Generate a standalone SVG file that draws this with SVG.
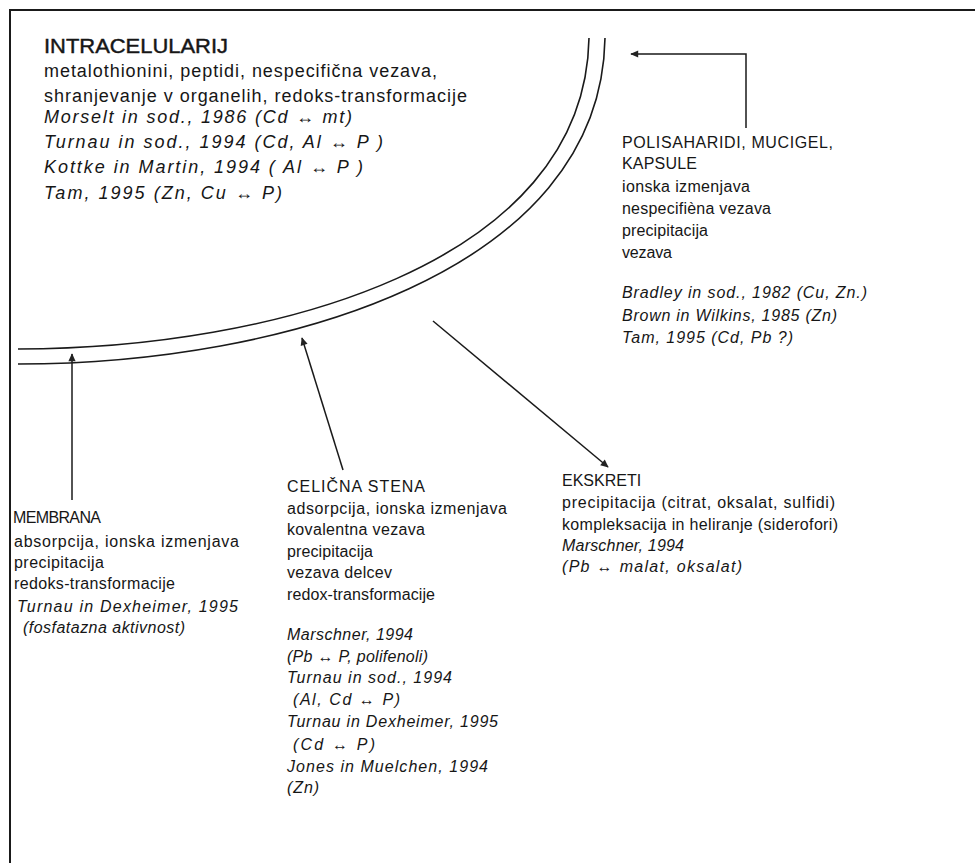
<svg xmlns="http://www.w3.org/2000/svg" width="975" height="863" viewBox="0 0 975 863">
<defs>
<marker id="ah" viewBox="0 0 10 10" refX="9" refY="5" markerWidth="9" markerHeight="8" orient="auto" markerUnits="userSpaceOnUse">
<path d="M0,0.5 L10,5 L0,9.5 z" fill="#222"/>
</marker>
<style>
text{font-family:"Liberation Sans",Arial,sans-serif;fill:#161616;}
.big{font-size:21px;stroke:#161616;stroke-width:0.45;}
.t18{font-size:18px;}
.t16{font-size:16px;}
.it{font-style:italic;}
.frame{fill:none;stroke:#1a1a1a;stroke-width:2;}
.wall{fill:none;stroke:#1a1a1a;stroke-width:1.6;}
.conn{fill:none;stroke:#1a1a1a;stroke-width:1.5;marker-end:url(#ah);}
</style>
</defs>
<rect width="975" height="863" fill="#fff"/>
<path class="frame" d="M10,863 L10,10 L975,10"/>
<g id="cell-wall">
<path class="wall" d="M18,349 C 270,349 585,265 589,38"/>
<path class="wall" d="M18,364 C 282,364 601,272 605,38"/>
</g>
<g id="connectors">
<polyline class="conn" points="746,128 746,54 631,54"/>
<line class="conn" x1="72" y1="500" x2="72" y2="354"/>
<line class="conn" x1="343" y1="470" x2="302" y2="338"/>
<line class="conn" x1="433" y1="321" x2="608" y2="467"/>
</g>
<g id="intracelularij">
<text class="big" x="44" y="53" textLength="184" lengthAdjust="spacingAndGlyphs">INTRACELULARIJ</text>
<text class="t18" x="44" y="77" textLength="393">metalothionini, peptidi, nespecifična vezava,</text>
<text class="t18" x="44" y="102" textLength="423">shranjevanje v organelih, redoks-transformacije</text>
<text class="t18 it" x="44" y="123" textLength="308">Morselt in sod., 1986 (Cd ↔ mt)</text>
<text class="t18 it" x="44" y="148" textLength="339">Turnau in sod., 1994 (Cd, Al ↔ P )</text>
<text class="t18 it" x="44" y="173" textLength="319">Kottke in Martin, 1994 ( Al ↔ P )</text>
<text class="t18 it" x="44" y="199" textLength="238">Tam, 1995 (Zn, Cu ↔ P)</text>
</g>
<g id="polisaharidi">
<text class="t16" x="622" y="148" textLength="211">POLISAHARIDI, MUCIGEL,</text>
<text class="t16" x="622" y="169" textLength="75">KAPSULE</text>
<text class="t16" x="622" y="192" textLength="128">ionska izmenjava</text>
<text class="t16" x="622" y="214" textLength="149">nespecifièna vezava</text>
<text class="t16" x="622" y="236" textLength="86">precipitacija</text>
<text class="t16" x="622" y="258" textLength="50">vezava</text>
<text class="t16 it" x="622" y="298" textLength="245">Bradley in sod., 1982 (Cu, Zn.)</text>
<text class="t16 it" x="622" y="321" textLength="215">Brown in Wilkins, 1985 (Zn)</text>
<text class="t16 it" x="622" y="343" textLength="171">Tam, 1995 (Cd, Pb ?)</text>
</g>
<g id="membrana">
<text class="t16" x="13" y="523" textLength="88">MEMBRANA</text>
<text class="t16" x="14" y="547" textLength="225">absorpcija, ionska izmenjava</text>
<text class="t16" x="14" y="568" textLength="90">precipitacija</text>
<text class="t16" x="14" y="589" textLength="161">redoks-transformacije</text>
<text class="t16 it" x="17" y="612" textLength="221">Turnau in Dexheimer, 1995</text>
<text class="t16 it" x="23" y="633" textLength="162">(fosfatazna aktivnost)</text>
</g>
<g id="celicna-stena">
<text class="t16" x="287" y="492" textLength="138">CELIČNA STENA</text>
<text class="t16" x="287" y="514" textLength="220">adsorpcija, ionska izmenjava</text>
<text class="t16" x="287" y="535" textLength="138">kovalentna vezava</text>
<text class="t16" x="287" y="557" textLength="86">precipitacija</text>
<text class="t16" x="287" y="578" textLength="105">vezava delcev</text>
<text class="t16" x="287" y="600" textLength="148">redox-transformacije</text>
<text class="t16 it" x="287" y="640" textLength="126">Marschner, 1994</text>
<text class="t16 it" x="287" y="662" textLength="141">(Pb ↔  P, polifenoli)</text>
<text class="t16 it" x="287" y="683" textLength="165">Turnau in sod., 1994</text>
<text class="t16 it" x="293" y="705" textLength="107">(Al, Cd ↔ P)</text>
<text class="t16 it" x="287" y="727" textLength="211">Turnau in Dexheimer, 1995</text>
<text class="t16 it" x="293" y="750" textLength="82">(Cd ↔ P)</text>
<text class="t16 it" x="287" y="772" textLength="201">Jones in Muelchen, 1994</text>
<text class="t16 it" x="287" y="793" textLength="32">(Zn)</text>
</g>
<g id="ekskreti">
<text class="t16" x="562" y="486">EKSKRETI</text>
<text class="t16" x="562" y="508" textLength="273">precipitacija (citrat, oksalat, sulfidi)</text>
<text class="t16" x="562" y="530" textLength="276">kompleksacija in heliranje (siderofori)</text>
<text class="t16 it" x="562" y="551" textLength="122">Marschner, 1994</text>
<text class="t16 it" x="562" y="572" textLength="180">(Pb ↔ malat,  oksalat)</text>
</g>
</svg>
